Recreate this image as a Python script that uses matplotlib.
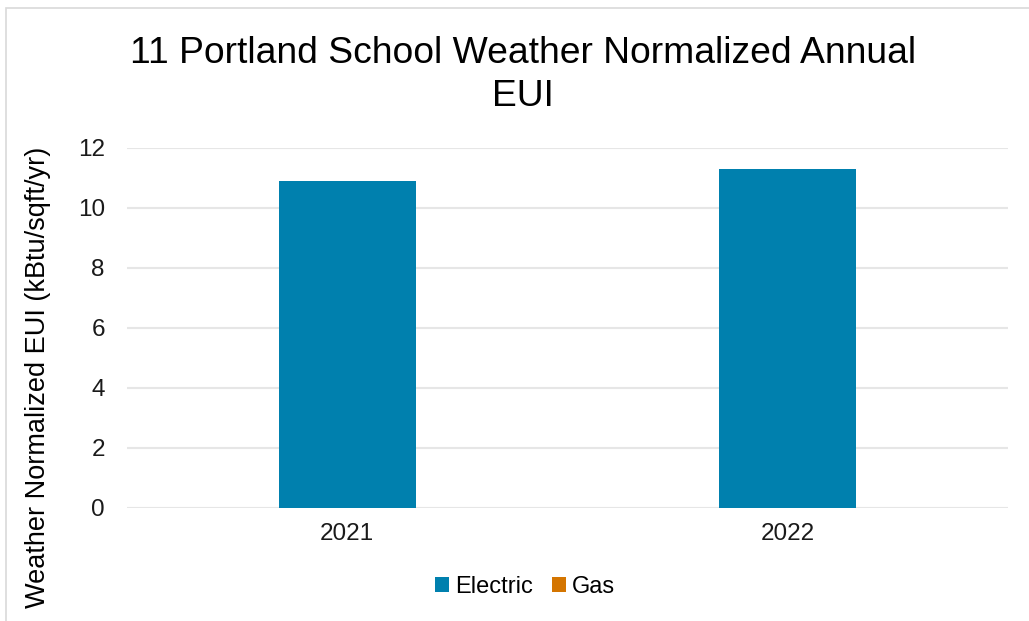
import matplotlib
matplotlib.use('Agg')
import matplotlib.pyplot as plt
import numpy as np
from matplotlib.patches import Rectangle

plt.rcParams['font.family'] = ['Liberation Sans', 'DejaVu Sans']

years = ['2021', '2022']
electric = [10.9, 11.3]
gas = [0, 0]

C_ELEC = '#0080AE'
C_GAS = '#D47500'

fig = plt.figure(figsize=(10.29, 6.21), dpi=100)
W, H = 1029, 621
ax = fig.add_axes([127 / W, 1 - 508 / H, 881 / W, 360 / H])

x = np.arange(len(years))
bw = 0.31
ax.bar(x, electric, width=bw, color=C_ELEC, label='Electric', zorder=3)
ax.bar(x + bw, gas, width=bw, color=C_GAS, label='Gas', zorder=3)

ax.set_xlim(-0.5, 1.5)
ax.set_ylim(0, 12)
ax.set_yticks(range(0, 13, 2))
ax.set_xticks(x)
ax.set_xticklabels(years)
ax.grid(axis='y', color='#e6e6e6', lw=1.5, zorder=0)
for s in ax.spines.values():
    s.set_visible(False)
ax.tick_params(length=0, labelsize=17.5, colors='#1a1a1a')
ax.tick_params(axis='x', pad=11)
ax.tick_params(axis='y', pad=16)

fig.text(523 / W, 1 - 75 / H, '11 Portland School Weather Normalized Annual\nEUI',
         ha='center', va='center', fontsize=26.8, linespacing=1.3)
fig.text(38 / W, 1 - 377 / H, 'Weather Normalized EUI (kBtu/sqft/yr)',
         rotation=90, ha='center', va='center', fontsize=19.5)

ax.legend(loc='center', bbox_to_anchor=(525 / W, 1 - 587 / H),
          bbox_transform=fig.transFigure, ncol=2, frameon=False, fontsize=17,
          handlelength=0.6, handleheight=0.6, handletextpad=0.25, columnspacing=0.8)

fig.patches.append(Rectangle((6 / W, -0.1), 1.2, 1.1 - 8 / H, transform=fig.transFigure,
                             fill=False, edgecolor='#d9d9d9', lw=1.2))

fig.savefig('out.png', dpi=100)
